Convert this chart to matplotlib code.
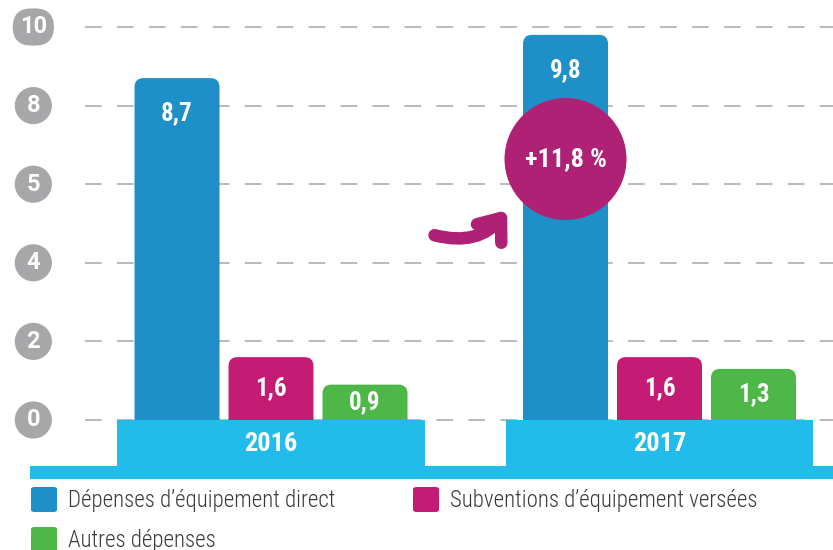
import matplotlib.pyplot as plt
from matplotlib.patches import FancyBboxPatch, Rectangle, Ellipse, FancyArrowPatch

annees = ["2016", "2017"]
series = ["Dépenses d’équipement direct", "Subventions d’équipement versées", "Autres dépenses"]
valeurs = [
    [8.7, 9.8],   # équipement direct
    [1.6, 1.6],   # subventions
    [0.9, 1.3],   # autres
]
etiquettes = [["8,7", "9,8"], ["1,6", "1,6"], ["0,9", "1,3"]]
graduations = [0, 2, 4, 6, 8, 10]
textes_graduations = ["0", "2", "4", "5", "8", "10"]
evolution = "+11,8 %"

couleurs = ["#1F8FC7", "#C41C74", "#4DB748"]
cyan = "#21BCEA"
gris = "#A7A7A9"
violet = "#AE2174"
police = ["Roboto Condensed", "Roboto", "DejaVu Sans"]

plt.rcParams["lines.scale_dashes"] = False
plt.rcParams["font.family"] = ["Roboto", "DejaVu Sans"]

fig = plt.figure(figsize=(8.33, 5.5), dpi=100)
ax = fig.add_axes([0, 0, 1, 1])
ax.set_xlim(-0.6976, 1.4466)
ax.set_ylim(-3.308, 10.687)
ax.axis("off")

# unités par pixel pour garder des coins ronds
ux = (1.4466 + 0.6976) / 833
uy = (10.687 + 3.308) / 550
aspect = uy / ux

largeur = 85 * ux
pas = 94 * ux
decalages = [-pas, 0, pas]

# grille pointillée + graduations en pastilles
for g, t in zip(graduations, textes_graduations):
    ax.axhline(g, xmin=0.102, xmax=1, color="#B4B4B6", lw=1.3,
               ls=(0, (12, 11)), zorder=1)
    style = "circle,pad=0.3" if len(t) == 1 else "round,pad=0.3,rounding_size=0.8"
    ax.text(0.04, g, t, transform=ax.get_yaxis_transform(), ha="center",
            va="center", fontsize=17, fontweight="bold", color="white",
            bbox=dict(boxstyle=style, fc=gris, ec="none"))

# barres aux coins arrondis
for i, vals in enumerate(valeurs):
    for j, v in enumerate(vals):
        x0 = j + decalages[i] - largeur / 2
        barre = FancyBboxPatch((x0, -0.5), largeur, v + 0.5,
                               boxstyle=f"round,pad=0,rounding_size={9 * ux}",
                               mutation_aspect=aspect, fc=couleurs[i], ec="none", zorder=2)
        ax.add_patch(barre)
        ax.text(j + decalages[i], max(v - 0.9, v / 2), etiquettes[i][j], ha="center",
                va="center", color="white", fontsize=18, fontweight="bold",
                family=police, zorder=4)

# bandeau des années
for j, an in enumerate(annees):
    ax.add_patch(Rectangle((j - 0.396, -1.5), 0.792, 1.5, fc=cyan, ec="none", zorder=3))
    ax.text(j, -0.6, an, ha="center", va="center", color="white", fontsize=19,
            fontweight="bold", family=police, zorder=4)
ax.axhspan(-1.5, -1.17, xmin=0.036, xmax=1, fc=cyan, ec="none", zorder=3)

# pastille d'évolution et flèche
cx = 1 + decalages[0]
ax.add_patch(Ellipse((cx, 6.64), 122 * ux, 122 * uy, fc=violet, ec="none", zorder=5))
ax.text(cx, 6.64, evolution, ha="center", va="center", color="white", fontsize=19,
        fontweight="bold", family=police, zorder=6)
fleche = FancyArrowPatch((0.414, 4.72), (0.612, 5.4), connectionstyle="arc3,rad=0.35",
                         arrowstyle="->,head_length=0.7,head_width=0.55",
                         mutation_scale=20, lw=9, color=violet, capstyle="round",
                         joinstyle="round", zorder=5)
ax.add_patch(fleche)

# légende
W, H = 833, 550
positions = [(31, 487), (413, 487), (31, 527)]
for (px, py), coul, nom in zip(positions, couleurs, series):
    fig.patches.append(FancyBboxPatch((px / W, 1 - (py + 25) / H), 26 / W, 25 / H,
                                      boxstyle="round,pad=0,rounding_size=0.004",
                                      fc=coul, ec="none", transform=fig.transFigure,
                                      figure=fig))
    fig.text((px + 37) / W, 1 - (py + 13) / H, nom, ha="left", va="center",
             fontsize=16.5, color="#3A3A3A", family=police, fontweight="light")

fig.savefig("out.png", dpi=100)
